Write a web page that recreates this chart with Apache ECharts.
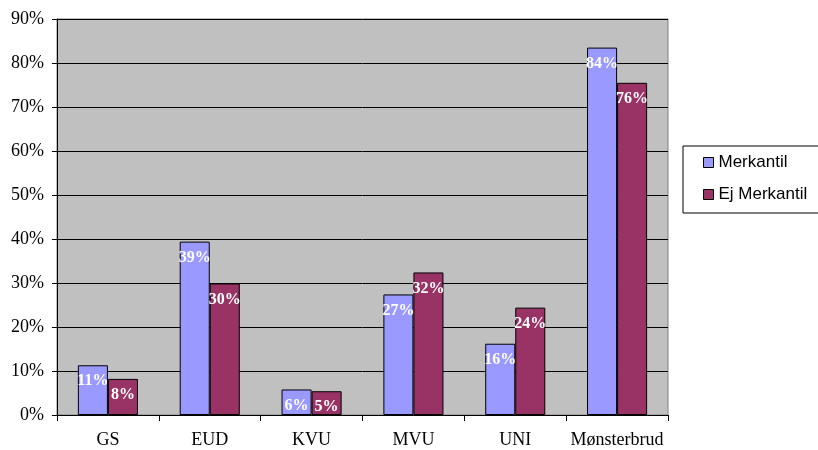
<!DOCTYPE html>
<html>
<head>
<meta charset="utf-8">
<script src="https://cdn.jsdelivr.net/npm/echarts@6/dist/echarts.min.js"></script>
<style>html,body{margin:0;padding:0;background:#fff}#c{width:818px;height:450px}</style>
</head>
<body>
<div id="c"></div>
<script>
const categories = ['GS', 'EUD', 'KVU', 'MVU', 'UNI', 'Mønsterbrud'];
const merkantil = [11.3, 39.4, 5.8, 27.4, 16.2, 83.5];
const ejMerkantil = [8.2, 29.9, 5.4, 32.4, 24.4, 75.5];
const seriesNames = ['Merkantil', 'Ej Merkantil'];

const chart = echarts.init(document.getElementById('c'));
const serif = '"Liberation Serif", "Times New Roman", serif';
const lbl = {
  show: true, position: 'insideTop', distance: 8,
  color: '#fff', fontFamily: serif, fontWeight: 'bold', fontSize: 16,
  formatter: p => Math.round(p.value) + '%'
};
chart.setOption({
  animation: false,
  grid: { left: 57, right: 150, top: 19, bottom: 35, show: true, backgroundColor: '#c0c0c0', borderColor: '#808080', borderWidth: 1 },
  legend: {
    orient: 'vertical', left: 683, top: 146, width: 135,
    data: seriesNames,
    icon: 'rect', itemWidth: 10, itemHeight: 10, itemGap: 15,
    padding: [8, 30, 10, 20],
    borderColor: '#000', borderWidth: 1, backgroundColor: '#fff',
    textStyle: { fontFamily: '"Liberation Sans", Arial, sans-serif', fontSize: 17, color: '#000' },
    itemStyle: { borderColor: '#000', borderWidth: 1 }
  },
  xAxis: {
    type: 'category', data: categories,
    axisLine: { lineStyle: { color: '#000', width: 1 } },
    axisTick: { show: true, length: 6, lineStyle: { color: '#000' } },
    axisLabel: { interval: 0, color: '#000', fontFamily: serif, fontSize: 18, margin: 16 }
  },
  yAxis: {
    type: 'value', min: 0, max: 90, interval: 10,
    axisLine: { show: true, lineStyle: { color: '#000', width: 1 } },
    axisTick: { show: true, length: 5, lineStyle: { color: '#000' } },
    axisLabel: { color: '#000', fontFamily: serif, fontSize: 18, margin: 13, formatter: '{value}%' },
    splitLine: { lineStyle: { color: '#000', width: 1 } }
  },
  series: [
    { name: seriesNames[0], type: 'bar', data: merkantil, barGap: '0%', barCategoryGap: '41%',
      itemStyle: { color: '#9999ff', borderColor: '#000', borderWidth: 1 }, label: lbl },
    { name: seriesNames[1], type: 'bar', data: ejMerkantil,
      itemStyle: { color: '#993366', borderColor: '#000', borderWidth: 1 }, label: lbl }
  ]
});
</script>
</body>
</html>
